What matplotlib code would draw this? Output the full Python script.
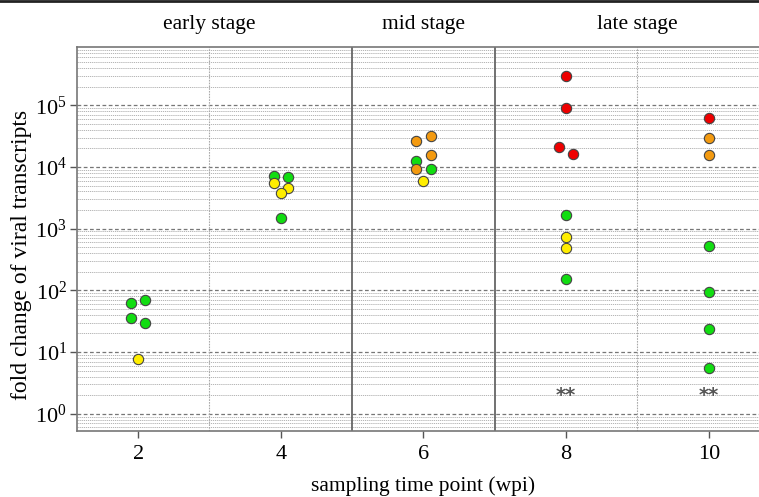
import numpy as np
import matplotlib
matplotlib.use('Agg')
import matplotlib.pyplot as plt
from matplotlib.ticker import LogLocator, FixedLocator, NullFormatter
from matplotlib.lines import Line2D

plt.rcParams['font.family'] = ['Liberation Serif', 'DejaVu Serif']
plt.rcParams['mathtext.fontset'] = 'stix'

# Datos (semana de muestreo, cambio de expresion)
green_x = [1.9, 2.1, 1.9, 2.1, 3.9, 4.1, 4.0, 5.9, 6.1, 8.0, 8.0, 10.0, 10.0, 10.0, 10.0]
green_y = [62, 69, 36, 29, 7100, 6800, 1470, 12600, 9200, 1670, 151, 530, 95, 23.6, 5.6]
yellow_x = [2.0, 3.9, 4.1, 4.0, 6.0, 8.0, 8.0]
yellow_y = [7.7, 5530, 4590, 3770, 5890, 741, 480]
orange_x = [5.9, 6.1, 6.1, 5.9, 10.0, 10.0]
orange_y = [26100, 31200, 15900, 9100, 29500, 15800]
red_x = [8.0, 8.0, 7.9, 8.1, 10.0]
red_y = [298000, 90400, 21300, 16400, 63000]

star_x = [8, 10]
star_y = [2, 2]

stages = ['early stage', 'mid stage', 'late stage']
stage_centers = [3, 6, 9]
stage_bounds = [5, 7]
weeks = [2, 4, 6, 8, 10]
decades = [1e0, 1e1, 1e2, 1e3, 1e4, 1e5]

fig = plt.figure(figsize=(7.59, 4.97), dpi=100)
ax = fig.add_axes([0.1011, 0.1328, 0.9136, 0.772])

# rejilla
ax.set_yscale('log')
ax.set_xlim(1.14, 10.86)
ax.set_ylim(0.524, 8.7e5)
ax.yaxis.set_major_locator(FixedLocator(decades))
ax.yaxis.set_minor_locator(LogLocator(base=10, subs=np.arange(2, 10), numticks=20))
ax.yaxis.set_minor_formatter(NullFormatter())
ax.grid(which='major', axis='y', color='#777777', linestyle=(0, (3, 2)), linewidth=0.9)
ax.grid(which='minor', axis='y', color='#aaaaaa', linestyle=(0, (1.5, 1)), linewidth=0.6)
ax.tick_params(which='minor', length=0)

for xv in [3, 9]:
    ax.axvline(xv, color='#aaaaaa', linestyle=(0, (1.5, 1)), linewidth=0.8)
for xv in stage_bounds:
    ax.axvline(xv, color='#666666', linewidth=1.3)

kw = dict(s=55, edgecolors='#444444', linewidths=0.8, zorder=3)
ax.scatter(green_x, green_y, color='#11dd11', **kw)
ax.scatter(yellow_x, yellow_y, color='#ffee00', **kw)
ax.scatter(orange_x, orange_y, color='#f39a10', **kw)
ax.scatter(red_x, red_y, color='#ee0000', **kw)

for xs, ys in zip(star_x, star_y):
    ax.text(xs, ys, '**', ha='center', va='center', fontsize=14,
            color='#555555', fontweight='bold', family='DejaVu Sans')

for name, xc in zip(stages, stage_centers):
    ax.text(xc, 1.06, name, transform=ax.get_xaxis_transform(),
            ha='center', va='center', fontsize=15.5)

ax.set_xticks(weeks)
ax.set_xticklabels([str(w) for w in weeks])
ax.tick_params(axis='both', which='major', labelsize=16, color='#555555',
               length=5, width=1)
ax.tick_params(axis='y', pad=2)
ax.tick_params(axis='x', pad=5)

for sp in ax.spines.values():
    sp.set_color('#777777')
    sp.set_linewidth(1.2)

ax.set_xlabel('sampling time point (wpi)', fontsize=15.5, labelpad=9)
ax.set_ylabel('fold change of viral transcripts', fontsize=17, labelpad=0)
ax.yaxis.set_label_coords(-0.064, 0.46)

fig.add_artist(Line2D([0, 1], [0.998, 0.998], transform=fig.transFigure,
                      color='#222222', linewidth=2))

fig.savefig('out.png', dpi=100)
